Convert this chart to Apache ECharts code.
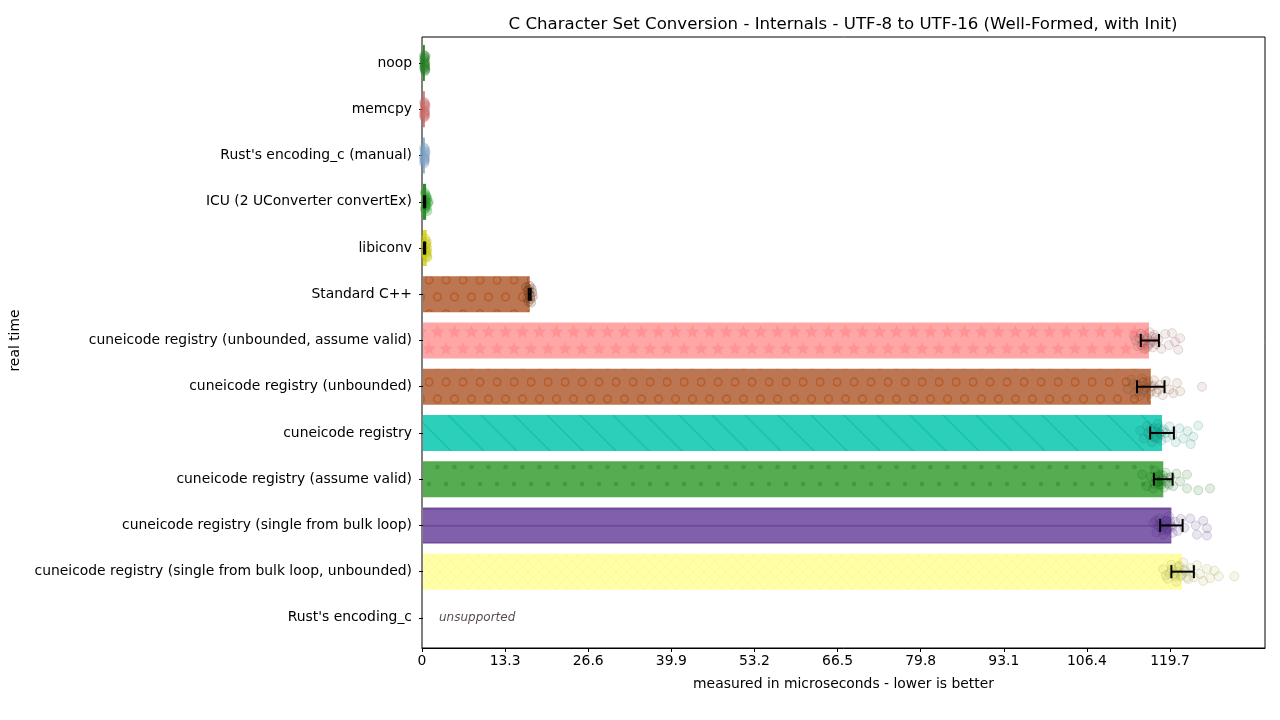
<!DOCTYPE html>
<html>
<head>
<meta charset="utf-8">
<script src="https://cdn.jsdelivr.net/npm/echarts@6/dist/echarts.min.js"></script>
<style>
  html, body { margin: 0; padding: 0; background: #fff; }
  #chart { width: 1280px; height: 720px; }
</style>
</head>
<body>
<div id="chart"></div>
<script>
const categories = [
  'noop',
  'memcpy',
  "Rust's encoding_c (manual)",
  'ICU (2 UConverter convertEx)',
  'libiconv',
  'Standard C++',
  'cuneicode registry (unbounded, assume valid)',
  'cuneicode registry (unbounded)',
  'cuneicode registry',
  'cuneicode registry (assume valid)',
  'cuneicode registry (single from bulk loop)',
  'cuneicode registry (single from bulk loop, unbounded)',
  "Rust's encoding_c"
];
const barValues = [0.3, 0.3, 0.3, 0.5, 0.6, 17.1, 116.3, 116.6, 118.4, 118.6, 119.9, 121.6, null];
const errLow  = [null, null, null, 0.15, 0.15, 16.95, 115.0, 114.4, 116.5, 117.1, 118.1, 119.9, null];
const errHigh = [null, null, null, 0.35, 0.35, 17.25, 117.9, 118.8, 120.3, 120.1, 121.7, 123.5, null];
const xTicks = [0, 13.3, 26.6, 39.9, 53.2, 66.5, 79.8, 93.1, 106.4, 119.7];
const xMax = 134.9;

// individual samples: [time, vertical jitter within the row]
const ptsNoop = [[0.2,-0.17],[0.3,-0.12],[0.25,-0.06],[0.35,0],[0.3,0.05],[0.2,0.1],[0.4,0.14],[0.3,0.17],[0.25,-0.02],[0.35,0.08],[0.2,-0.1],[0.3,0.12],[0.4,-0.15],[0.2,0.03]];
const ptsMemcpy = [[0.2,-0.16],[0.3,-0.1],[0.25,-0.04],[0.3,0.02],[0.2,0.07],[0.35,0.12],[0.25,0.17],[0.3,-0.13],[0.2,0.15],[0.3,0.05],[0.4,-0.07],[0.25,0.1]];
const ptsRustManual = [[0.2,-0.17],[0.25,-0.1],[0.3,-0.04],[0.2,0.03],[0.3,0.08],[0.25,0.13],[0.2,0.17],[0.3,-0.14],[0.25,0.1],[0.3,0.0],[0.4,-0.07],[0.2,0.06]];
const ptsIcu = [[0.3,-0.2],[0.5,-0.14],[0.7,-0.08],[0.4,-0.02],[0.8,0.03],[0.5,0.08],[0.6,0.12],[0.3,0.16],[0.7,0.2],[0.5,-0.11],[0.9,0.0],[0.4,0.1],[0.6,-0.05],[0.5,0.04]];
const ptsIconv = [[0.4,-0.2],[0.6,-0.14],[0.5,-0.07],[0.7,0.0],[0.4,0.05],[0.6,0.1],[0.5,0.15],[0.7,0.2],[0.5,-0.1],[0.6,0.07],[0.4,-0.03],[0.6,0.18]];
const ptsStdCpp = [[16.5,-0.15],[16.8,-0.08],[17.0,0.0],[17.2,0.1],[17.4,-0.12],[17.6,0.05],[16.9,0.16],[17.1,-0.18],[17.3,0.18],[16.7,0.08],[17.5,-0.04],[17.0,-0.1],[17.2,0.04]];
const ptsUnbAssume = [[113.9,-0.1],[114.5,0.12],[115.0,-0.15],[115.3,0.05],[115.7,0.18],[116.0,-0.05],[116.2,0.1],[116.4,-0.18],[116.6,0.02],[116.9,0.15],[117.2,-0.12],[117.5,0.08],[117.8,-0.02],[118.3,0.18],[118.9,-0.14],[119.5,0.1],[120.0,-0.16],[120.5,0.03],[121.0,0.2],[121.3,-0.05],
  [114.2,0.0],[114.8,-0.05],[115.1,0.1],[115.5,-0.1],[115.8,0.0],[116.1,0.14],[116.5,0.06],[116.8,-0.08],[117.0,0.02],[117.4,-0.06]];
const ptsUnb = [[112.9,0.05],[113.5,-0.15],[114.0,0.15],[114.4,-0.05],[114.8,0.2],[115.2,-0.18],[115.6,0.08],[116.0,-0.08],[116.3,0.16],[116.7,0.0],[117.1,-0.14],[117.5,0.12],[118.0,-0.04],[118.5,0.18],[119.0,-0.12],[119.6,0.06],[120.2,0.14],[120.8,-0.08],[121.3,0.1],[124.8,0.0],
  [114.6,0.08],[115.0,-0.02],[115.4,0.12],[115.9,0.02],[116.2,-0.12],[116.6,0.1],[117.0,-0.02],[117.8,0.06],[113.8,-0.06]];
const ptsRegistry = [[114.9,-0.05],[115.5,0.12],[116.0,-0.15],[116.4,0.05],[116.8,0.2],[117.1,-0.1],[117.4,0.1],[117.7,-0.2],[118.0,0.0],[118.3,0.16],[118.7,-0.08],[119.1,0.1],[119.6,-0.14],[120.1,0.05],[120.6,0.2],[121.2,-0.1],[121.8,0.12],[122.5,-0.04],[123.0,0.24],[123.4,0.08],[124.2,-0.16],
  [116.2,0.0],[116.6,-0.08],[117.0,0.08],[117.3,-0.02],[117.6,0.12],[117.9,-0.1],[118.2,0.04],[118.5,-0.04],[119.0,0.0]];
const ptsAssume = [[115.2,-0.1],[116.0,0.15],[116.6,-0.05],[117.0,0.2],[117.3,-0.18],[117.6,0.05],[117.9,0.12],[118.1,-0.1],[118.4,0.0],[118.7,0.18],[119.0,-0.14],[119.3,0.08],[119.7,-0.04],[120.2,0.15],[120.7,-0.12],[121.3,0.05],[122.4,-0.1],[122.4,0.2],[124.2,0.24],[126.1,0.2],
  [117.4,0.0],[117.8,-0.06],[118.0,0.06],[118.3,0.12],[118.6,-0.08],[118.9,0.04],[119.2,-0.02],[117.2,0.1],[119.5,0.12]];
const ptsBulk = [[117.0,-0.05],[117.5,0.15],[118.0,-0.15],[118.3,0.05],[118.6,0.2],[118.9,-0.1],[119.2,0.1],[119.5,-0.2],[119.8,0.0],[120.1,0.16],[120.5,-0.08],[120.9,0.12],[121.4,-0.14],[122.0,0.05],[122.9,-0.15],[123.8,0.0],[125.0,-0.1],[125.6,0.06],[125.6,0.22],[124.0,0.2],
  [117.8,0.02],[118.2,-0.06],[118.5,0.1],[118.8,0.0],[119.1,-0.1],[119.4,0.06],[119.7,-0.08],[120.0,0.04],[117.4,-0.1]];
const ptsBulkUnb = [[118.6,-0.05],[119.3,0.15],[119.9,-0.15],[120.3,0.05],[120.7,0.22],[121.0,-0.1],[121.4,0.1],[121.8,-0.2],[122.2,0.0],[122.6,0.16],[123.0,-0.08],[123.5,0.12],[124.0,-0.14],[124.5,0.05],[125.0,0.2],[125.6,-0.06],[126.1,0.14],[126.8,-0.02],[127.5,0.1],[130.0,0.1],
  [119.6,0.04],[120.0,-0.06],[120.5,0.1],[120.9,0.0],[121.2,-0.12],[121.6,0.06],[122.0,-0.04],[122.4,0.12],[119.0,0.08]];
const samples = [ptsNoop, ptsMemcpy, ptsRustManual, ptsIcu, ptsIconv, ptsStdCpp,
  ptsUnbAssume, ptsUnb, ptsRegistry, ptsAssume, ptsBulk, ptsBulkUnb];

const FONT = 'DejaVu Sans';

// hatch tiles drawn on small canvases
function tile(w, h, bg, draw) {
  const c = document.createElement('canvas');
  c.width = w; c.height = h;
  const ctx = c.getContext('2d');
  ctx.fillStyle = bg;
  ctx.fillRect(0, 0, w, h);
  draw(ctx);
  return { image: c, repeat: 'repeat' };
}
function star(ctx, cx, cy, r) {
  ctx.beginPath();
  for (let i = 0; i < 10; i++) {
    const rr = i % 2 ? r * 0.48 : r;
    const a = -Math.PI / 2 + i * Math.PI / 5;
    ctx.lineTo(cx + rr * Math.cos(a), cy + rr * Math.sin(a));
  }
  ctx.closePath();
  ctx.fill();
}
const ringTile = () => tile(17, 34, '#bc7651', ctx => {
  ctx.strokeStyle = '#b75e2c';
  ctx.lineWidth = 1.7;
  [[4, 8], [12.5, 25]].forEach(([x, y]) => {
    ctx.beginPath(); ctx.arc(x, y, 3.8, 0, Math.PI * 2); ctx.stroke();
  });
});
const starTile = tile(17, 34, '#ffa6a6', ctx => {
  ctx.fillStyle = '#ff9494';
  star(ctx, 4, 9, 7); star(ctx, 21, 9, 7); star(ctx, 12.5, 26, 7); star(ctx, -4.5, 26, 7);
  star(ctx, 12.5, -8, 7); star(ctx, 4, 43, 7);
});
const lineTile = tile(33, 33, '#2ccfb9', ctx => {
  ctx.strokeStyle = '#16c2a8';
  ctx.lineWidth = 1.4;
  ctx.beginPath();
  ctx.moveTo(-2, -2); ctx.lineTo(35, 35);
  ctx.moveTo(31, -2); ctx.lineTo(35, 2);
  ctx.moveTo(-2, 31); ctx.lineTo(2, 35);
  ctx.stroke();
});
const dotTile = tile(17, 34, '#56ad51', ctx => {
  ctx.fillStyle = '#3c9e38';
  [[4, 8], [12.5, 25]].forEach(([x, y]) => {
    ctx.beginPath(); ctx.arc(x, y, 2.3, 0, Math.PI * 2); ctx.fill();
  });
});
const hlineTile = tile(20, 17, '#815fab', ctx => {
  ctx.fillStyle = '#6d4a99';
  ctx.fillRect(0, 15, 20, 1.6);
});
const crossTile = tile(11, 11, '#ffffa8', ctx => {
  ctx.strokeStyle = '#fdf89a';
  ctx.lineWidth = 1;
  ctx.beginPath();
  ctx.moveTo(0, 0); ctx.lineTo(11, 11);
  ctx.moveTo(11, 0); ctx.lineTo(0, 11);
  ctx.stroke();
});

const barFills = ['#2f8a2f', '#d87a7a', '#8db0cf', '#2e8b2e', '#dada22', ringTile(),
  starTile, ringTile(), lineTile, dotTile, hlineTile, crossTile, '#fff'];
const pointFill = ['rgba(40,130,40,0.3)', 'rgba(210,110,110,0.3)', 'rgba(130,165,200,0.3)',
  'rgba(30,120,30,0.3)', 'rgba(200,200,20,0.32)', 'rgba(120,60,35,0.22)',
  'rgba(150,80,80,0.13)', 'rgba(130,80,50,0.13)', 'rgba(10,130,110,0.13)',
  'rgba(10,100,10,0.15)', 'rgba(70,35,120,0.14)', 'rgba(160,160,60,0.12)'];
const pointEdge = ['rgba(30,110,30,0.4)', 'rgba(190,90,90,0.4)', 'rgba(110,145,185,0.4)',
  'rgba(40,200,40,0.4)', 'rgba(190,190,0,0.45)', 'rgba(100,50,25,0.35)',
  'rgba(140,70,70,0.24)', 'rgba(130,70,40,0.24)', 'rgba(10,130,110,0.24)',
  'rgba(10,100,10,0.24)', 'rgba(70,35,120,0.22)', 'rgba(150,150,50,0.26)'];

const chart = echarts.init(document.getElementById('chart'), null, { renderer: 'canvas' });

const scatterSeries = samples.map((pts, row) => ({
  type: 'scatter',
  xAxisIndex: 1,
  yAxisIndex: 2,
  symbol: 'circle',
  symbolSize: 9,
  clip: false,
  z: 3,
  silent: true,
  itemStyle: { color: pointFill[row], borderColor: pointEdge[row], borderWidth: 1 },
  data: pts.map(p => [p[0], row + p[1]])
}));

function renderErr(params, api) {
  const row = api.value(0);
  const a = api.coord([api.value(1), row]);
  const b = api.coord([api.value(2), row]);
  const cap = 6.5;
  const st = { stroke: '#000', lineWidth: 2 };
  return {
    type: 'group',
    children: [
      { type: 'line', shape: { x1: a[0], y1: a[1], x2: b[0], y2: b[1] }, style: st },
      { type: 'line', shape: { x1: a[0], y1: a[1] - cap, x2: a[0], y2: a[1] + cap }, style: st },
      { type: 'line', shape: { x1: b[0], y1: b[1] - cap, x2: b[0], y2: b[1] + cap }, style: st }
    ]
  };
}

const option = {
  animation: false,
  backgroundColor: '#fff',
  textStyle: { fontFamily: FONT },
  title: {
    text: 'C Character Set Conversion - Internals - UTF-8 to UTF-16 (Well-Formed, with Init)',
    left: 838, top: 11, textAlign: 'center',
    textStyle: { fontFamily: FONT, fontSize: 16.6, fontWeight: 'normal', color: '#000' }
  },
  grid: [
    { left: 422, right: 15, top: 37, bottom: 72, show: true, borderColor: '#000', borderWidth: 1 },
    { left: 422, right: 15, top: 40, bottom: 79 }
  ],
  xAxis: [
    {
      gridIndex: 0, type: 'value', min: 0, max: xMax,
      name: 'measured in microseconds - lower is better',
      nameLocation: 'middle', nameGap: 29,
      nameTextStyle: { fontFamily: FONT, fontSize: 13.9, color: '#000' },
      axisLine: { show: true, lineStyle: { color: '#000', width: 1 } },
      axisTick: { show: true, length: 4, lineStyle: { color: '#000' }, customValues: xTicks },
      axisLabel: { fontFamily: FONT, fontSize: 13.9, color: '#000', margin: 6, customValues: xTicks },
      splitLine: { show: false }
    },
    { gridIndex: 1, type: 'value', min: 0, max: xMax, show: false }
  ],
  yAxis: [
    { gridIndex: 0, type: 'value', show: false, splitLine: { show: false } },
    {
      gridIndex: 1, type: 'category', inverse: true, data: categories,
      name: 'real time', nameLocation: 'middle', nameGap: 401,
      nameTextStyle: { fontFamily: FONT, fontSize: 13.9, color: '#000' },
      axisLine: { show: false },
      axisTick: { show: true, length: 4, alignWithLabel: true, lineStyle: { color: '#000' } },
      axisLabel: { fontFamily: FONT, fontSize: 13.9, color: '#000', margin: 11 }
    },
    { gridIndex: 1, type: 'value', min: -0.5, max: 12.5, inverse: true, show: false }
  ],
  series: [
    {
      type: 'bar',
      xAxisIndex: 1,
      yAxisIndex: 1,
      barWidth: 36,
      z: 2,
      silent: true,
      data: barValues.map((v, i) => ({ value: v, itemStyle: { color: barFills[i] } }))
    },
    ...scatterSeries,
    {
      type: 'custom',
      xAxisIndex: 1,
      yAxisIndex: 2,
      z: 5,
      silent: true,
      clip: false,
      renderItem: renderErr,
      encode: { x: [1, 2], y: 0 },
      data: errLow.map((lo, i) => [i, lo, errHigh[i]]).filter(d => d[1] !== null)
    },
    {
      type: 'scatter',
      xAxisIndex: 1,
      yAxisIndex: 2,
      symbolSize: 0,
      silent: true,
      label: {
        show: true, position: 'right', distance: 16,
        formatter: 'unsupported',
        fontFamily: FONT, fontSize: 12, fontStyle: 'italic', color: '#2b1a1a'
      },
      data: [[0, categories.length - 1]]
    }
  ]
};

chart.setOption(option);
</script>
</body>
</html>
